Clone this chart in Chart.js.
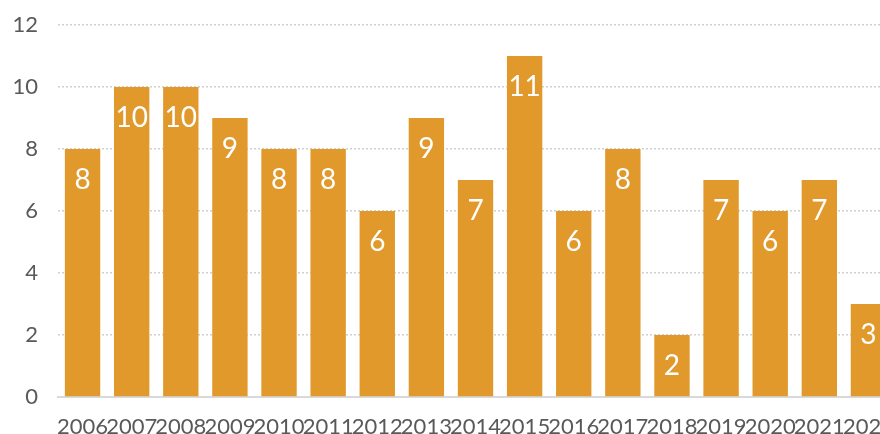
<!DOCTYPE html>
<html><head><meta charset="utf-8">
<script src="https://cdn.jsdelivr.net/npm/chart.js@4/dist/chart.umd.min.js"></script>
<style>html,body{margin:0;padding:0;overflow:hidden;background:#fff}#wrap{width:905px;height:434px}</style>
</head><body><div id="wrap"><canvas id="c" width="905" height="434"></canvas></div>
<script>
const years = ["2006","2007","2008","2009","2010","2011","2012","2013","2014","2015","2016","2017","2018","2019","2020","2021","2022"];
const counts = [8,10,10,9,8,8,6,9,7,11,6,8,2,7,6,7,3];
const yTicks = [0,2,4,6,8,10,12];

const FONT = "Lato, 'Open Sans', sans-serif";
const labelPlugin = {
  id: 'inlabels',
  afterDatasetsDraw(chart) {
    const ctx = chart.ctx;
    const meta = chart.getDatasetMeta(0);
    ctx.save();
    ctx.fillStyle = '#ffffff';
    ctx.font = '28px ' + FONT;
    ctx.textAlign = 'center';
    ctx.textBaseline = 'middle';
    meta.data.forEach((bar, i) => {
      ctx.fillText(String(counts[i]), bar.x, bar.y + 31);
    });
    ctx.restore();
  }
};

new Chart(document.getElementById('c'), {
  type: 'bar',
  data: { labels: years, datasets: [{ data: counts, backgroundColor: '#E0992A', borderWidth: 0, categoryPercentage: 0.8, barPercentage: 0.9 }] },
  options: {
    responsive: false, animation: false, devicePixelRatio: 1,
    layout: { padding: { top: 25, right: 12, left: 0, bottom: 0 } },
    plugins: { legend: { display: false }, tooltip: { enabled: false } },
    scales: {
      x: {
        grid: { display: false, drawTicks: false },
        border: { display: true, color: '#d9d9d9', width: 2 },
        ticks: { autoSkip: false, maxRotation: 0, minRotation: 0, color: '#595959', font: { size: 22, family: FONT }, padding: 17 },
        afterFit(s) { s.height = 37; s.paddingLeft = 0; s.paddingRight = 0; }
      },
      y: {
        min: 0, max: 12,
        afterBuildTicks(s) { s.ticks = yTicks.map(v => ({ value: v })); },
        grid: { color: '#d0d0d0', lineWidth: 1.5, drawTicks: false },
        border: { display: false, dash: [2, 2] },
        ticks: { color: '#595959', font: { size: 22, family: FONT }, padding: 20 },
        afterFit(s) { s.width = 58; s.paddingTop = 0; s.paddingBottom = 0; }
      }
    }
  },
  plugins: [labelPlugin]
});
</script></body></html>
